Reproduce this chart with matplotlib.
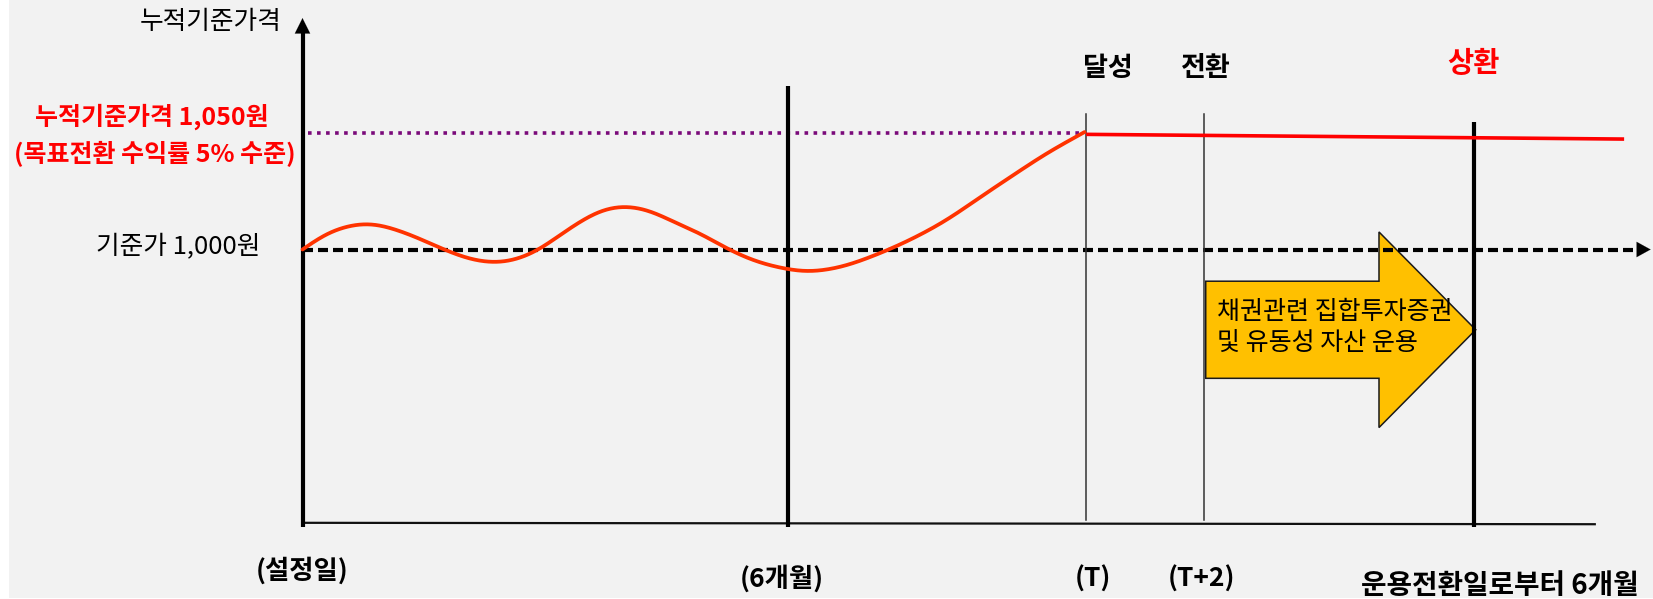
import numpy as np
import matplotlib
matplotlib.use('Agg')
import matplotlib.pyplot as plt
from matplotlib.patches import Polygon, Rectangle

plt.rcParams['font.family'] = ['Noto Sans CJK KR', 'DejaVu Sans']

# ---------------- data ----------------
base_price = 1000          # 기준가
target_price = 1050        # 목표 누적기준가격
# accumulated NAV path (months since launch, price)
nav_months = [0.0, 0.340, 0.813, 1.287, 1.739, 2.109, 2.439, 2.686, 2.933, 3.180,
              3.427, 3.674, 3.958, 4.292, 4.576, 4.909, 5.259, 5.609, 6.000, 6.227,
              6.638, 7.132, 7.544, 7.956, 8.367, 8.779, 9.191, 9.664]
nav_prices = [1000, 1007.6, 1011.2, 1006.9, 1000.1, 995.5, 994.4, 996.2, 1000.1, 1006.2,
              1011.9, 1016.6, 1018.6, 1016.6, 1011.9, 1006.9, 1000.1, 994.8, 991.5, 990.5,
              992.4, 998.4, 1004.8, 1012.6, 1022.3, 1031.8, 1041.1, 1050.3]
# after target achievement
after_months = [9.70, 16.30]
after_prices = [1049.2, 1047.2]

t_month = 9.68        # (T)
t2_month = 11.13      # (T+2)
redeem_month = 14.47  # 운용전환일로부터 6개월
half_month = 6.0      # (6개월)

bottom_labels = ['(설정일)', '(6개월)', '(T)', '(T+2)', '운용전환일로부터 6개월']
bottom_label_x = [0.0, 5.92, 9.76, 11.10, 14.79]
bottom_label_y = [862.8, 859.2, 859.2, 859.2, 856.4]
bottom_label_sizes = [19, 19, 19, 19, 20]

top_labels = ['달성', '전환', '상환']
top_label_x = [9.944, 11.156, 14.468]
top_label_y = [1077.6, 1077.6, 1079.3]
top_label_colors = ['black', 'black', '#FF0000']
top_label_sizes = [19.5, 19.5, 20.5]

# axis extents
axis_floor = 881.5
axis_top = 1098.9
baseline_y = [883.2, 882.6]
baseline_x = [0.03, 15.96]
dash_end = 16.65
purple_start, purple_end = 0.07, 9.64

# yellow arrow geometry
arrow_x0, arrow_head_x, arrow_tip_x = 11.155, 13.295, 14.49
arrow_cy, arrow_body_half, arrow_head_half = 965.7, 20.75, 41.8
arrow_text = ['채권관련 집합투자증권', '및 유동성 자산 운용']
arrow_text_y = [973.1, 959.6]
arrow_text_x = 11.29


def centripetal_cr(P, n=30):
    P = np.asarray(P, float)
    P = np.vstack([2 * P[0] - P[1], P, 2 * P[-1] - P[-2]])
    out = []
    for i in range(1, len(P) - 2):
        p0, p1, p2, p3 = P[i - 1], P[i], P[i + 1], P[i + 2]
        t0 = 0.0
        t1 = t0 + np.linalg.norm(p1 - p0) ** 0.5
        t2 = t1 + np.linalg.norm(p2 - p1) ** 0.5
        t3 = t2 + np.linalg.norm(p3 - p2) ** 0.5
        t = np.linspace(t1, t2, n, endpoint=False)[:, None]
        A1 = (t1 - t) / (t1 - t0) * p0 + (t - t0) / (t1 - t0) * p1
        A2 = (t2 - t) / (t2 - t1) * p1 + (t - t1) / (t2 - t1) * p2
        A3 = (t3 - t) / (t3 - t2) * p2 + (t - t2) / (t3 - t2) * p3
        B1 = (t2 - t) / (t2 - t0) * A1 + (t - t0) / (t2 - t0) * A2
        B2 = (t3 - t) / (t3 - t1) * A2 + (t - t1) / (t3 - t1) * A3
        C = (t2 - t) / (t2 - t1) * B1 + (t - t1) / (t2 - t1) * B2
        out.append(C)
    out.append(P[-2][None, :])
    return np.vstack(out)


def smooth_path(xs, ys, sx, sy, sigma_px=12.0):
    """Smooth drawing path in pixel-like space (x monotonic)."""
    pts = np.column_stack([np.asarray(xs) * sx, np.asarray(ys) * sy])
    cr = centripetal_cr(pts)
    order = np.argsort(cr[:, 0])
    gx = np.arange(pts[0, 0], pts[-1, 0] + 0.5, 1.0)
    gy = np.interp(gx, cr[order, 0], cr[order, 1])
    r = int(3 * sigma_px)
    k = np.exp(-0.5 * (np.arange(-r, r + 1) / sigma_px) ** 2)
    k /= k.sum()
    left = 2 * gy[0] - gy[1:r + 1][::-1]
    right = 2 * gy[-1] - gy[-r - 1:-1][::-1]
    padded = np.concatenate([left, gy, right])
    sy_ = np.convolve(padded, k, mode='valid')
    return gx / sx, sy_ / sy


# ---------------- figure ----------------
W, H, DPI = 1653, 599, 100
fig = plt.figure(figsize=(W / DPI, H / DPI), dpi=DPI, facecolor='white')
ax = fig.add_axes([0, 0, 1, 1])
ax.set_facecolor('none')
px_per_month = 80.97
px_per_won = 2.34
x0_px, y0_px = 302.5, 249.5
ax.set_xlim(-x0_px / px_per_month, (W - x0_px) / px_per_month)
ax.set_ylim(base_price - (H - y0_px) / px_per_won, base_price + y0_px / px_per_won)
ax.axis('off')

# gray panel
ax.add_patch(Rectangle((9 / W, 1 / H), 1 - 9 / W, 1 - 1 / H, transform=ax.transAxes,
                       facecolor='#F2F2F2', edgecolor='none', zorder=0))

# yellow arrow
cy, bh, hh = arrow_cy, arrow_body_half, arrow_head_half
verts = [(arrow_x0, cy + bh), (arrow_head_x, cy + bh), (arrow_head_x, cy + hh),
         (arrow_tip_x, cy), (arrow_head_x, cy - hh), (arrow_head_x, cy - bh),
         (arrow_x0, cy - bh)]
ax.add_patch(Polygon(verts, closed=True, facecolor='#FFC000', edgecolor='#1a1a1a',
                     linewidth=1.1, zorder=2))
for s, yy in zip(arrow_text, arrow_text_y):
    ax.text(arrow_text_x, yy, s, ha='left', va='center', fontsize=18, color='black', zorder=6)

# purple dotted target line
ax.plot([purple_start, purple_end], [target_price, target_price], color='#7A0A7A',
        lw=2.6, linestyle=(0, (1.0, 1.5)), solid_capstyle='butt', dash_capstyle='butt', zorder=3)

# base dashed line with arrow
ax.plot([0, dash_end - 0.12], [base_price, base_price], color='black', lw=3,
        linestyle=(0, (2.4, 1.2)), dash_capstyle='butt', zorder=4)
ax.annotate('', xy=(dash_end, base_price), xytext=(dash_end - 0.05, base_price),
            arrowprops=dict(arrowstyle='-|>,head_length=1.0,head_width=0.55',
                            color='black', lw=0.1, shrinkA=0, shrinkB=0), zorder=4)

# baseline (time axis)
ax.plot(baseline_x, baseline_y, color='#111111', lw=1.6, zorder=3)

# y axis with arrow
ax.plot([0, 0], [axis_floor, axis_top - 5], color='black', lw=3.0, zorder=5,
        solid_capstyle='butt')
ax.annotate('', xy=(0, axis_top), xytext=(0, axis_top - 2),
            arrowprops=dict(arrowstyle='-|>,head_length=1.1,head_width=0.55',
                            color='black', lw=0.1, shrinkA=0, shrinkB=0), zorder=5)

# vertical event lines
ax.plot([half_month, half_month], [axis_floor, 1069.9], color='black', lw=3.0, zorder=5,
        solid_capstyle='butt')
ax.plot([t_month, t_month], [884.4, 1057.9], color='#333333', lw=1.1, zorder=5)
ax.plot([t2_month, t2_month], [884.4, 1057.9], color='#333333', lw=1.1, zorder=5)
ax.plot([redeem_month, redeem_month], [881.3, 1054.6], color='black', lw=3.0, zorder=5,
        solid_capstyle='butt')

# NAV curve (smoothed drawing path through the read points)
cx, cyv = smooth_path(nav_months, nav_prices, px_per_month, px_per_won)
ax.plot(cx, cyv, color='#FF3300', lw=2.7, zorder=6,
        solid_capstyle='round', solid_joinstyle='round')
ax.plot(after_months, after_prices, color='#FF0000', lw=2.6, zorder=6)

# left side texts
ax.text(-0.265, 1097.2, '누적기준가격', ha='right', va='center', fontsize=18.5, color='black')
ax.text(-1.859, 1056.6, '누적기준가격 1,050원', ha='center', va='center', fontsize=18,
        fontweight='bold', color='#FF0000')
ax.text(-1.822, 1040.8, '(목표전환 수익률 5% 수준)', ha='center', va='center', fontsize=18,
        fontweight='bold', color='#FF0000')
ax.text(-1.537, 1001.5, '기준가 1,000원', ha='center', va='center', fontsize=18.5,
        color='black')

# top labels
for s, xx, yy, c, fs in zip(top_labels, top_label_x, top_label_y, top_label_colors, top_label_sizes):
    ax.text(xx, yy, s, ha='center', va='center', fontsize=fs, fontweight='bold', color=c)

# bottom labels
for s, xx, yy, fs in zip(bottom_labels, bottom_label_x, bottom_label_y, bottom_label_sizes):
    ax.text(xx, yy, s, ha='center', va='center', fontsize=fs, fontweight='bold', color='black')

fig.savefig('out.png', dpi=DPI, facecolor='white')
